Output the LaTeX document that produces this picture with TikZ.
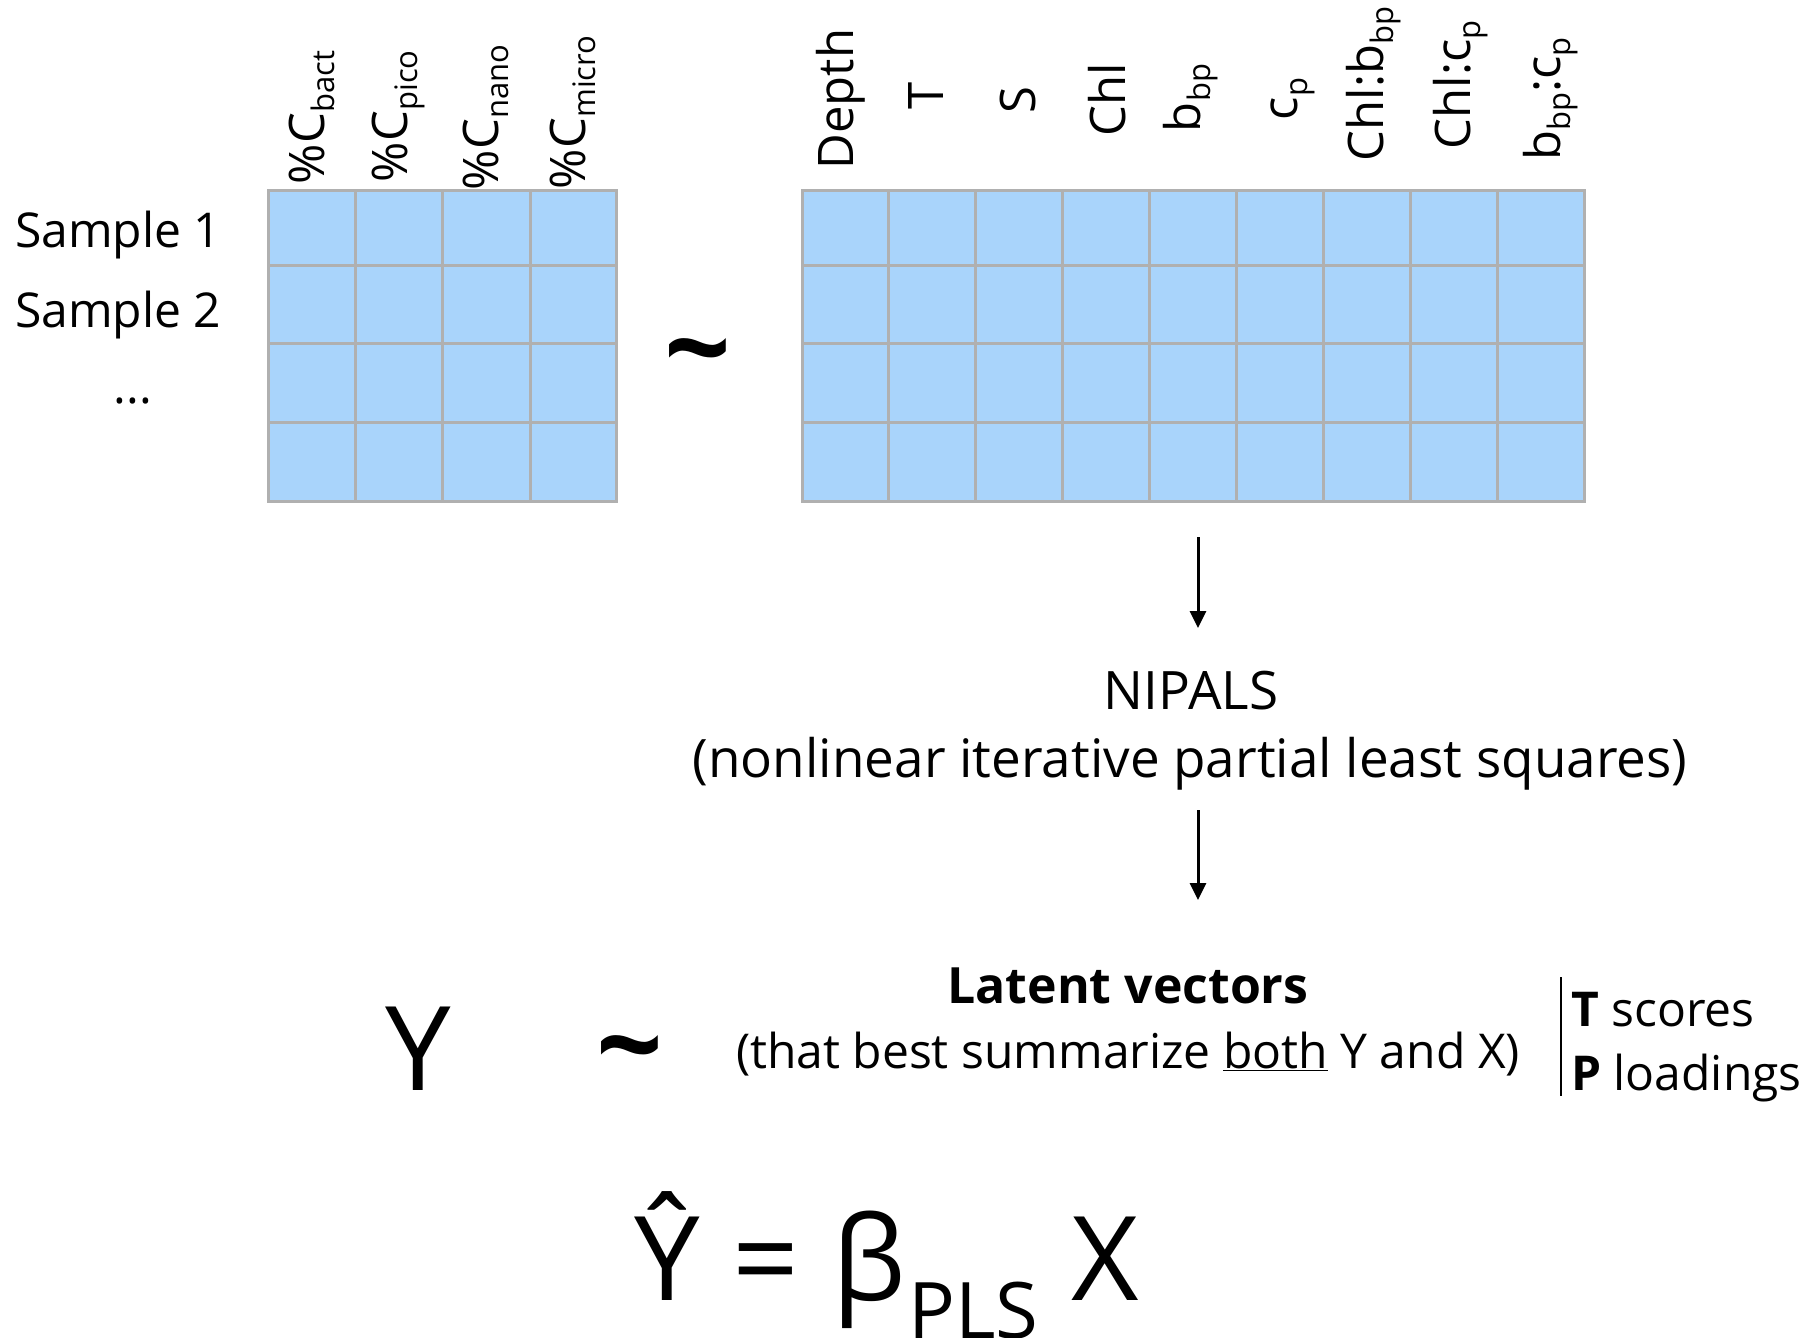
\documentclass[tikz,border=0pt]{standalone}
\usepackage{fontspec}
\setmainfont{Open Sans}
\usetikzlibrary{arrows.meta}
\definecolor{cellblue}{RGB}{169,212,251}
\definecolor{gridgray}{RGB}{176,176,176}
\newcommand{\lsub}[1]{\raisebox{-10pt}{\fontsize{31}{31}\selectfont #1}}
\begin{document}
\begin{tikzpicture}[x=1pt,y=-1pt,
  txt/.style={inner sep=0pt,outer sep=0pt,font=\fontsize{48}{58}\selectfont},
  collbl/.style={txt,rotate=90,font=\fontsize{49}{58}\selectfont},
  cell/.style={draw=gridgray,line width=3pt,fill=cellblue},
  flow/.style={line width=3pt,-{Triangle[width=16pt,length=17pt]}},
  bigtxt/.style={inner sep=0pt,outer sep=0pt,font=\fontsize{117}{130}\selectfont},
  tildetxt/.style={inner sep=0pt,outer sep=0pt,font={\fontsize{117}{130}\selectfont\bfseries}},
]
\useasboundingbox (0,0) rectangle (1818,1338);

% left matrix
\foreach \x/\xx in {268/355,355/442,442/530,530/616}
  \foreach \y/\yy in {190/265,265/343,343/422,422/501}
    \draw[cell] (\x,\y) rectangle (\xx,\yy);
% right matrix
\foreach \i in {0,...,8}
  \foreach \y/\yy in {190/265,265/343,343/422,422/501}
    \draw[cell] ({802+86.9*\i},\y) rectangle ({802+86.9*(\i+1)},\yy);

% row labels
\node[txt,anchor=base west] (s1) at (15,247) {Sample 1};
\node[txt,anchor=base west] (s2) at (15,327) {Sample 2};
\node[txt,anchor=base] (sdots) at (133,403) {...};

% left column labels
\node[collbl,anchor=west] (cbact)  at (311.5,184) {\%C\lsub{bact}};
\node[collbl,anchor=west] (cpico)  at (398.5,182) {\%C\lsub{pico}};
\node[collbl,anchor=west] (cnano)  at (486,190) {\%C\lsub{nano}};
\node[collbl,anchor=west] (cmicro) at (573,189) {\%C\lsub{micro}};

% right column labels
\node[collbl,anchor=base] (ldepth) at (853,99) {Depth};
\node[collbl,anchor=base] (lt)     at (943,96) {T};
\node[collbl,anchor=base] (ls)     at (1035,100) {S};
\node[collbl,anchor=base] (lchl)   at (1125,100) {Chl};
\node[collbl,anchor=base] (lbbp)   at (1200,98) {b\lsub{bp}};
\node[collbl,anchor=base] (lcp)    at (1297,99) {c\lsub{p}};
\node[collbl,anchor=base] (lchlb)  at (1383,84) {Chl:b\lsub{bp}};
\node[collbl,anchor=base] (lchlc)  at (1470,85) {Chl:c\lsub{p}};
\node[collbl,anchor=base] (lbc)    at (1560,99) {b\lsub{bp}:c\lsub{p}};

% tilde between matrices
\node[tildetxt,anchor=base] (tilde1) at (698,389) {\textasciitilde};

% NIPALS
\coordinate (a1s) at (1198,537);
\coordinate (a1e) at (1198,628);
\draw[flow] (a1s) -- (a1e);
\node[txt,anchor=base,font=\fontsize{53}{60}\selectfont] (nip) at (1191,709) {NIPALS};
\node[txt,anchor=base,font=\fontsize{53}{60}\selectfont] (nipl) at (1190,777) {(nonlinear iterative partial least squares)};
\coordinate (a2s) at (1198,810);
\coordinate (a2e) at (1198,900);
\draw[flow] (a2s) -- (a2e);

% latent vectors
\node[bigtxt,anchor=base] (yy) at (418,1090) {Y};
\node[tildetxt,anchor=base] (tilde2) at (630,1086) {\textasciitilde};
\node[txt,anchor=base,font={\fontsize{50}{60}\selectfont\bfseries}] (lat) at (1128,1003) {Latent vectors};
\node[txt,anchor=base] (that) at (1128,1068) {(that best summarize \underline{both} Y and X)};
\coordinate (vb1) at (1561,977);
\coordinate (vb2) at (1561,1096);
\draw[line width=2pt] (vb1) -- (vb2);
\node[txt,anchor=base west] (ts) at (1571,1026) {\textbf{T} scores};
\node[txt,anchor=base west] (pl) at (1571,1090) {\textbf{P} loadings};

% equation
\node[bigtxt,anchor=base] (yhat) at (667,1300) {Ŷ};
\node[bigtxt,anchor=base] (eq) at (765.5,1300) {=};
\node[bigtxt,anchor=base] (beta) at (869.5,1300) {β};
\node[txt,anchor=base,font=\fontsize{78}{80}\selectfont] (pls) at (973.5,1338) {PLS};
\node[bigtxt,anchor=base] (xx) at (1105,1300) {X};
\end{tikzpicture}
\end{document}
